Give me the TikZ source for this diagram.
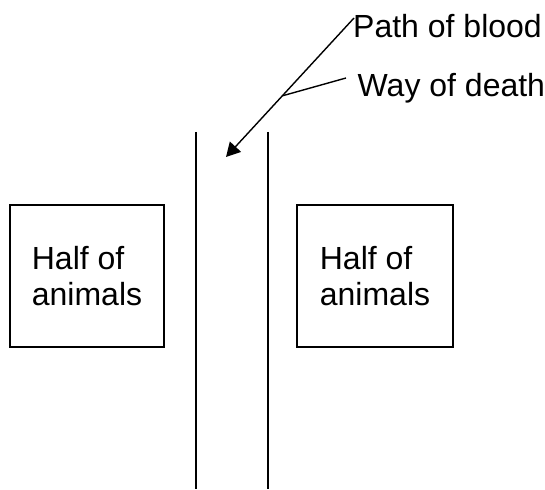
\documentclass[tikz,border=0pt]{standalone}
\usepackage{fontspec}
\setmainfont{Liberation Sans}
\usetikzlibrary{arrows.meta, calc}

\tikzset{
    lbl/.style={font=\fontsize{32}{36.5}\selectfont, inner sep=0pt},
    halfbox/.style={draw, line width=1.4pt, align=left, minimum height=142pt,
        font=\fontsize{32}{36.5}\selectfont},
}

\begin{document}
\begin{tikzpicture}[x=1pt, y=-1pt, line width=1.4pt]
    \useasboundingbox (0,0) rectangle (545,489);
    \coordinate (P) at (354,18);
    \coordinate (T) at (226,157);
    \coordinate (W) at ($(P)!0.56!(T)$);
    \coordinate (D) at (346,78);
    \node[lbl, anchor=base west] (blood) at (352.5,38) {Path of blood};
    \node[lbl, anchor=base west] (death) at (357,97) {Way of death};
    \draw[-{Triangle[length=14pt, width=15pt]}] (P) -- (T);
    \draw (W) -- (D);
    \draw (196,132) -- (196,489);
    \draw (268,132) -- (268,489);
    \node[halfbox, minimum width=154pt] (halfL) at (87,276) {Half of\\animals};
    \node[halfbox, minimum width=156pt] (halfR) at (375,276) {Half of\\animals};
\end{tikzpicture}
\end{document}
